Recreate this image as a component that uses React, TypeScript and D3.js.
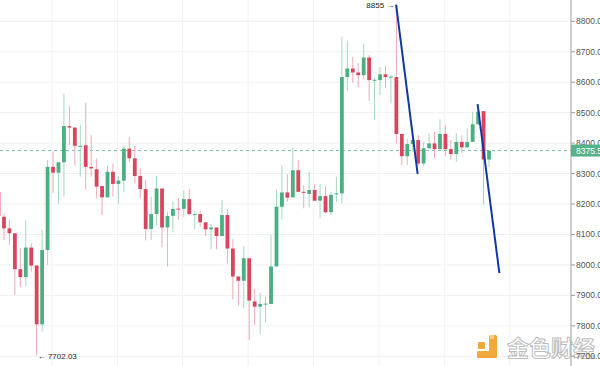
import React from "react";
import * as d3 from "d3";

const W = 600;
const H = 366;

// OHLC candles (index order)
const opens = [8240,8158,8120,8104,7986,7960,8057,7998,7805,8049,8322,8303,8337,8456,8451,8390,8393,8322,8314,8259,8222,8306,8266,8277,8382,8350,8292,8249,
  8118,8167,8251,8123,8161,8185,8184,8216,8166,8167,8140,8117,8123,8095,8164,8054,7962,7948,8022,7880,7863,7871,7872,7995,8191,8238,8222,8311,
  8240,8233,8246,8211,8226,8173,8232,8235,8617,8645,8632,8623,8681,8606,8607,8626,8617,8617,8430,8357,8397,8410,8333,8383,8399,8380,8430,8380,
  8364,8404,8386,8404,8462,8505,8346];
const highs = [8250,8169,8147,8104,8055,8147,8071,8000,8115,8344,8372,8337,8563,8521,8451,8459,8532,8426,8350,8259,8326,8333,8292,8393,8421,8391,8317,8279,
  8224,8292,8251,8175,8208,8219,8244,8249,8178,8178,8140,8134,8123,8213,8184,8085,7962,8062,8022,7920,7909,7896,8098,8248,8328,8298,8385,8344,
  8262,8306,8265,8266,8257,8240,8290,8749,8736,8683,8663,8727,8689,8615,8650,8652,8623,8855,8430,8415,8432,8426,8404,8432,8437,8478,8459,8410,
  8432,8426,8448,8503,8525,8505,8376];
const lows = [8150,8082,8066,7902,7927,7929,7978,7702.03,7781,8000,8237,8200,8224,8393,8326,8290,8248,8290,8219,8164,8222,8224,8200,8240,8337,8270,8219,8080,
  8082,8128,8058,7995,8109,8148,8158,8164,8117,8126,8095,8051,8051,8095,8005,7887,7866,7858,7754,7803,7774,7811,7872,7995,8150,8208,8222,8240,
  8186,8189,8211,8153,8170,8164,8208,8202,8572,8598,8583,8612,8539,8478,8557,8581,8530,8399,8328,8328,8370,8326,8325,8383,8350,8380,8357,8346,
  8339,8368,8386,8404,8459,8197,8322];
const closes = [8160,8120,8104,7986,7960,8057,7998,7805,8049,8322,8303,8337,8456,8451,8391,8391,8322,8317,8257,8222,8306,8266,8277,8382,8350,8292,8249,8118,
  8167,8251,8123,8161,8184,8183,8216,8167,8167,8140,8117,8123,8095,8164,8054,7962,7948,8022,7883,7863,7872,7873,7995,8191,8238,8221,8311,8240,
  8238,8246,8211,8226,8173,8230,8235,8617,8645,8632,8623,8681,8607,8608,8626,8617,8618,8430,8357,8397,8410,8333,8383,8399,8380,8430,8380,8364,
  8404,8386,8404,8462,8503,8346,8375.59];

const priceTicks = [8800, 8700, 8600, 8500, 8400, 8300, 8200, 8100, 8000, 7900, 7800, 7700];
const timeGridIdx = [9.8, 21.8, 33.8, 45.8, 57.8, 69.8, 81.8, 93.8];
const lastPrice = 8375.59;
const highMark = { idx: 73, price: 8855, label: "8855" };
const lowMark = { idx: 7, price: 7702.03, label: "7702.03" };
// trend lines: [idx, price]
const trend1 = [[72.95, 8855], [76.9, 8299]];
const trend2 = [[87.9, 8528], [91.9, 7973]];

const GREEN = "#4dae82";
const RED = "#d8465e";
const GREEN_WICK = "#a6d8c0";
const RED_WICK = "#eeaab6";

export default function App() {
  const axisX = 571;
  const x = d3.scaleLinear().domain([0, 90]).range([-1.475, 489.025]);
  const y = d3.scaleLinear().domain([7700, 8800]).range([356.3, 21.3]);
  const bodyW = 3.8;
  const line = d3.line<number[]>().x((d) => x(d[0])).y((d) => y(d[1]));

  return (
    <svg
      width={W}
      height={H}
      style={{ position: "fixed", left: 0, top: 0, background: "#fff" }}
      fontFamily="Arial, 'Liberation Sans', sans-serif"
    >
      <rect width={W} height={H} fill="#fff" />
      {/* grid */}
      {priceTicks.map((t) => (
        <line key={"h" + t} x1={0} x2={axisX} y1={y(t)} y2={y(t)} stroke="#f1f1f1" strokeWidth={1} />
      ))}
      {timeGridIdx.map((g) => (
        <line key={"v" + g} x1={x(g)} x2={x(g)} y1={0} y2={H} stroke="#f2f2f2" strokeWidth={1} />
      ))}
      {/* last price line */}
      <line x1={0} x2={axisX} y1={y(lastPrice)} y2={y(lastPrice)} stroke="#7cc2a4" strokeWidth={1} strokeDasharray="3,3" />
      {/* candles */}
      {opens.map((o, i) => {
        const c = closes[i];
        const up = c >= o;
        const cx = x(i);
        const top = y(Math.max(o, c));
        const bot = y(Math.min(o, c));
        return (
          <g key={i}>
            <line x1={cx} x2={cx} y1={y(highs[i])} y2={y(lows[i])} stroke={up ? GREEN_WICK : RED_WICK} strokeWidth={1} />
            <rect x={cx - bodyW / 2} y={top} width={bodyW} height={Math.max(1, bot - top)} fill={up ? GREEN : RED} />
          </g>
        );
      })}
      {/* trend lines */}
      <path d={line(trend1) || ""} stroke="#1238a6" strokeWidth={2} fill="none" />
      <path d={line(trend2) || ""} stroke="#1238a6" strokeWidth={2} fill="none" />
      {/* high/low markers */}
      <text x={x(highMark.idx) - 2} y={y(highMark.price) + 3} fontSize={8} fill="#222" textAnchor="end">
        {highMark.label + " \u2192"}
      </text>
      <text x={x(lowMark.idx) + 1} y={y(lowMark.price) + 3} fontSize={8} fill="#222" textAnchor="start">
        {"\u2190 " + lowMark.label}
      </text>
      {/* watermark */}
      <g opacity={0.9}>
        <rect x={489} y={335} width={8} height={23} rx={1.5} fill="#f0a02a" />
        <rect x={477} y={351} width={20} height={7} rx={1.5} fill="#f0a02a" />
        <rect x={478} y={342} width={7} height={7} rx={1} fill="#f0a02a" />
        <rect x={490} y={335} width={4} height={4} fill="#f7c978" />
        <text x={507} y={356} fontSize={22} fontWeight="bold" fontFamily="'Noto Sans CJK SC', sans-serif" fill="#fff" stroke="#b8b8b8" strokeWidth={1}>
          金色财经
        </text>
      </g>
      {/* axis */}
      <line x1={axisX} x2={axisX} y1={0} y2={H} stroke="#a0a0a0" strokeWidth={1} />
      {priceTicks.map((t) => (
        <g key={"t" + t}>
          <line x1={axisX} x2={axisX + 4} y1={y(t)} y2={y(t)} stroke="#a0a0a0" />
          <text x={axisX + 5} y={y(t) + 3} fontSize={8.5} fill="#555">
            {d3.format(".2f")(t)}
          </text>
        </g>
      ))}
      <rect x={axisX} y={y(lastPrice) - 6} width={W - axisX} height={12} fill="#53b38a" />
      <text x={axisX + 5} y={y(lastPrice) + 3} fontSize={8.5} fill="#fff">
        {d3.format(".2f")(lastPrice)}
      </text>
    </svg>
  );
}
